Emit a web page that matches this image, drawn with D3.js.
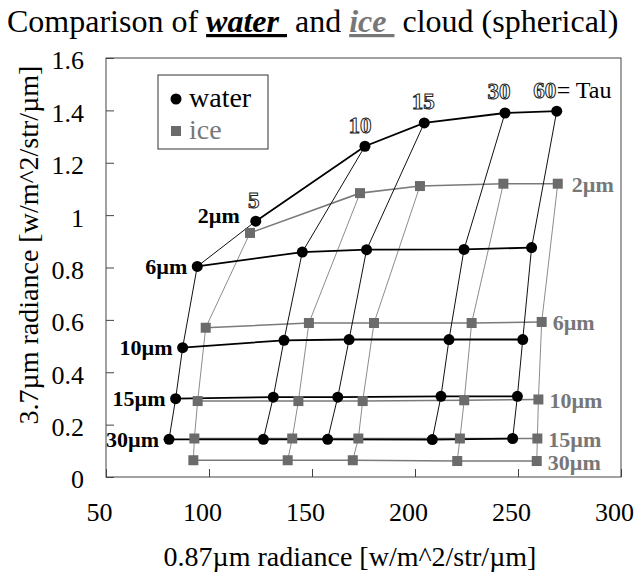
<!DOCTYPE html>
<html>
<head>
  <meta charset="utf-8">
  <script src="https://cdnjs.cloudflare.com/ajax/libs/d3/7.8.5/d3.min.js"></script>
  <style>
    body { margin: 0; background: #fff; }
    text { font-family: "Liberation Serif", "Times New Roman", serif; }
  </style>
</head>
<body>
  <div id="viz"></div>
  <script>
    // optical thickness (columns) and effective radius (rows)
    var tauLevels = [5, 10, 15, 30, 60];
    var radiusLabels = ["2\u00b5m", "6\u00b5m", "10\u00b5m", "15\u00b5m", "30\u00b5m"];
    var xTicks = [50, 100, 150, 200, 250, 300];
    var yTicks = [0, 0.2, 0.4, 0.6, 0.8, 1, 1.2, 1.4, 1.6];

    // water cloud: 0.87um radiance, one row per radius, one value per tau
    var waterX = [
      [122.7, 175.7, 204.5, 243.7, 268.8],
      [94.3, 145.3, 176.5, 223.8, 256.6],
      [87.2, 136.4, 168.0, 216.5, 252.3],
      [83.8, 131.2, 162.5, 212.6, 249.7],
      [80.6, 126.4, 157.6, 208.4, 247.4]
    ];
    // water cloud: 3.7um radiance
    var waterY = [
      [0.977, 1.263, 1.352, 1.390, 1.397],
      [0.804, 0.859, 0.868, 0.869, 0.876],
      [0.494, 0.522, 0.525, 0.525, 0.525],
      [0.299, 0.305, 0.305, 0.308, 0.308],
      [0.144, 0.144, 0.144, 0.143, 0.147]
    ];
    // ice cloud
    var iceX = [
      [119.9, 173.3, 202.4, 242.9, 269.3],
      [98.4, 148.5, 180.1, 227.5, 261.5],
      [94.5, 143.4, 174.6, 223.9, 259.9],
      [92.9, 140.4, 172.5, 221.8, 259.4],
      [92.4, 138.2, 169.8, 220.5, 259.1]
    ];
    var iceY = [
      [0.932, 1.084, 1.111, 1.120, 1.120],
      [0.570, 0.588, 0.588, 0.588, 0.592],
      [0.290, 0.290, 0.290, 0.293, 0.296],
      [0.147, 0.147, 0.147, 0.147, 0.147],
      [0.064, 0.064, 0.064, 0.061, 0.061]
    ];

    var W = 635, H = 574;
    var m = {left: 106, right: 14, top: 58, bottom: 97};

    var svg = d3.select("#viz").append("svg")
        .attr("width", W)
        .attr("height", H);

    var x = d3.scaleLinear().domain([50, 300]).range([m.left, W - m.right]);
    var y = d3.scaleLinear().domain([0, 1.6]).range([H - m.bottom, m.top]);

    // title
    var title = svg.append("text")
        .attr("x", 7).attr("y", 32)
        .style("font-size", "32px")
        .style("white-space", "pre")
        .attr("fill", "#000");
    title.append("tspan").text("Comparison of ");
    title.append("tspan").text("water ").style("font-weight", "bold").style("font-style", "italic")
        .style("text-decoration", "underline");
    title.append("tspan").text(" and ");
    title.append("tspan").text("ice ").style("font-weight", "bold").style("font-style", "italic")
        .style("text-decoration", "underline").attr("fill", "#777");
    title.append("tspan").text(" cloud (spherical)");

    // axes
    var xAxis = d3.axisBottom(x).tickValues(xTicks).tickSizeInner(-8).tickSizeOuter(0).tickPadding(26);
    var yAxis = d3.axisLeft(y).tickValues(yTicks).tickSizeInner(-8).tickSizeOuter(0).tickPadding(22)
        .tickFormat(function(d){ return d; });

    var gx = svg.append("g").attr("transform", "translate(0," + y(0) + ")").call(xAxis);
    var gy = svg.append("g").attr("transform", "translate(" + x(50) + ",0)").call(yAxis);
    [gx, gy].forEach(function(g){
      g.select(".domain").remove();
      g.selectAll("line").attr("stroke", "#444");
      g.selectAll("text").attr("fill", "#000").style("font-size", "26px")
        .style("font-family", "Liberation Serif");
    });
    gx.selectAll("text").attr("dx", -7);
    gy.selectAll("text").attr("dy", "0.42em");

    // plot box
    svg.append("rect")
        .attr("x", x(50)).attr("y", y(1.6))
        .attr("width", x(300) - x(50)).attr("height", y(0) - y(1.6))
        .attr("fill", "none").attr("stroke", "#444").attr("stroke-width", 1);

    // axis titles
    svg.append("text")
        .attr("x", 350).attr("y", 566)
        .attr("text-anchor", "middle")
        .style("font-size", "28px")
        .text("0.87\u00b5m radiance [w/m^2/str/\u00b5m]");
    svg.append("text")
        .attr("transform", "translate(28,245) rotate(-90)")
        .attr("text-anchor", "middle")
        .attr("dominant-baseline", "central")
        .style("font-size", "28px")
        .text("3.7\u00b5m radiance [w/m^2/str/\u00b5m]");

    function pts(X, Y, i){ return X[i].map(function(v, j){ return [x(v), y(Y[i][j])]; }); }
    function col(X, Y, j){ return X.map(function(r, i){ return [x(r[j]), y(Y[i][j])]; }); }
    var line = d3.line();

    var grid = svg.append("g").attr("fill", "none");

    // ice lines
    tauLevels.forEach(function(t, j){
      grid.append("path").attr("d", line(col(iceX, iceY, j)))
          .attr("stroke", "#8c8c8c").attr("stroke-width", 1);
    });
    radiusLabels.forEach(function(r, i){
      grid.append("path").attr("d", line(pts(iceX, iceY, i)))
          .attr("stroke", "#7a7a7a").attr("stroke-width", 1.6);
    });
    // water lines
    tauLevels.forEach(function(t, j){
      grid.append("path").attr("d", line(col(waterX, waterY, j)))
          .attr("stroke", "#111").attr("stroke-width", 1);
    });
    radiusLabels.forEach(function(r, i){
      grid.append("path").attr("d", line(pts(waterX, waterY, i)))
          .attr("stroke", "#000").attr("stroke-width", 1.8);
    });

    // markers
    var icePts = [], waterPts = [];
    radiusLabels.forEach(function(r, i){
      icePts = icePts.concat(pts(iceX, iceY, i));
      waterPts = waterPts.concat(pts(waterX, waterY, i));
    });
    svg.append("g").selectAll("rect").data(icePts).join("rect")
        .attr("x", function(d){ return d[0] - 5; })
        .attr("y", function(d){ return d[1] - 5; })
        .attr("width", 10).attr("height", 10)
        .attr("fill", "#6b6b6b");
    svg.append("g").selectAll("circle").data(waterPts).join("circle")
        .attr("cx", function(d){ return d[0]; })
        .attr("cy", function(d){ return d[1]; })
        .attr("r", 5.5)
        .attr("fill", "#000");

    // radius labels, water on the left
    svg.append("g").selectAll("text").data(radiusLabels).join("text")
        .attr("x", function(d, i){ return x(waterX[i][0]) - (i === 0 ? 16 : 10); })
        .attr("y", function(d, i){ return y(waterY[i][0]) - (i === 0 ? 6 : 0); })
        .attr("text-anchor", "end")
        .attr("dominant-baseline", "central")
        .style("font-size", "22px").style("font-weight", "bold")
        .attr("fill", "#000")
        .text(function(d){ return d; });
    // ice on the right
    svg.append("g").selectAll("text").data(radiusLabels).join("text")
        .attr("x", function(d, i){ return x(iceX[i][4]) + (i === 0 ? 14 : 11); })
        .attr("y", function(d, i){ return y(iceY[i][4]) + 1; })
        .attr("dominant-baseline", "central")
        .style("font-size", "22px").style("font-weight", "bold")
        .attr("fill", "#777")
        .text(function(d){ return d; });

    // tau labels (outlined numbers)
    var tauDx = [-2, -5, -1, -6, -12];
    svg.append("g").selectAll("text").data(tauLevels).join("text")
        .attr("x", function(d, j){ return x(waterX[0][j]) + tauDx[j]; })
        .attr("y", function(d, j){ return y(waterY[0][j]) - 21; })
        .attr("text-anchor", "middle")
        .attr("dominant-baseline", "central")
        .style("font-size", "23px").style("font-weight", "bold")
        .attr("fill", "#fff").attr("stroke", "#222").attr("stroke-width", 1)
        .text(function(d){ return d; });
    svg.append("text")
        .attr("x", x(waterX[0][4])).attr("y", y(waterY[0][4]) - 21)
        .attr("dominant-baseline", "central")
        .style("font-size", "24px")
        .text("= Tau");

    // legend
    var lg = svg.append("g").attr("transform", "translate(158,75)");
    lg.append("rect").attr("width", 110).attr("height", 74)
        .attr("fill", "#fff").attr("stroke", "#333").attr("stroke-width", 1);
    lg.append("circle").attr("cx", 18).attr("cy", 24).attr("r", 5.5).attr("fill", "#000");
    lg.append("text").attr("x", 31).attr("y", 22).attr("dominant-baseline", "central")
        .style("font-size", "28px").text("water");
    lg.append("rect").attr("x", 13).attr("y", 51).attr("width", 10).attr("height", 10).attr("fill", "#6b6b6b");
    lg.append("text").attr("x", 31).attr("y", 54).attr("dominant-baseline", "central")
        .style("font-size", "28px").attr("fill", "#777").text("ice");
  </script>
</body>
</html>
